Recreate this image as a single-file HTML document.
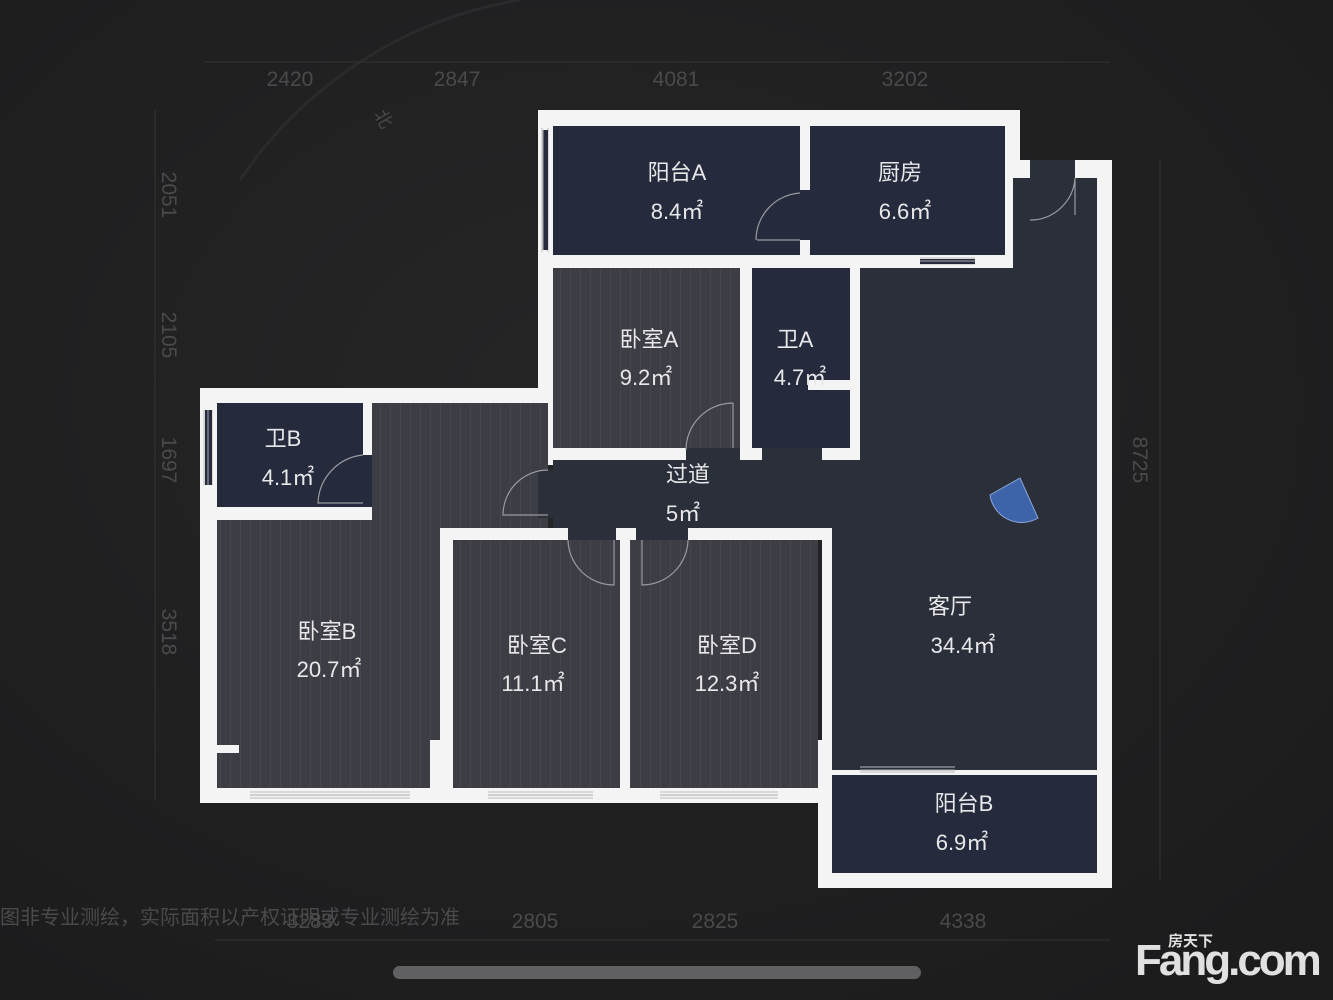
<!DOCTYPE html>
<html><head><meta charset="utf-8"><style>
html,body{margin:0;padding:0;background:#1e1e1f;}
svg{display:block}
text{font-family:"Liberation Sans","Noto Sans CJK SC",sans-serif;}
</style></head><body>
<svg width="1333" height="1000" viewBox="0 0 1333 1000" xmlns="http://www.w3.org/2000/svg">
<defs>
<radialGradient id="bg" cx="0.45" cy="0.4" r="0.8"><stop offset="0" stop-color="#262627"/><stop offset="1" stop-color="#1b1b1c"/></radialGradient>
<pattern id="wood" width="10" height="10" patternUnits="userSpaceOnUse"><rect width="10" height="10" fill="#3d3d45"/><line x1="0.5" y1="0" x2="0.5" y2="10" stroke="#45454d" stroke-width="1"/></pattern>
</defs>
<rect width="1333" height="1000" fill="url(#bg)"/>
<path d="M240 180 A420 420 0 0 1 520 0" fill="none" stroke="#2a2a2c" stroke-width="3"/>
<g stroke="#333335" stroke-width="1">
<line x1="205" y1="62" x2="1110" y2="62"/><line x1="155" y1="110" x2="155" y2="800"/><line x1="1160" y1="160" x2="1160" y2="880"/><line x1="215" y1="940" x2="1110" y2="940"/>
</g>
<g fill="#4a4a4c" font-size="21" text-anchor="middle">
<text x="290" y="86">2420</text><text x="457" y="86">2847</text><text x="676" y="86">4081</text><text x="905" y="86">3202</text>
<text x="310" y="928">3283</text><text x="535" y="928">2805</text><text x="715" y="928">2825</text><text x="963" y="928">4338</text>
<text transform="translate(162,195) rotate(90)">2051</text>
<text transform="translate(162,335) rotate(90)">2105</text>
<text transform="translate(162,460) rotate(90)">1697</text>
<text transform="translate(162,632) rotate(90)">3518</text>
<text transform="translate(1133,460) rotate(90)">8725</text>
<text transform="translate(378,122) rotate(60)" font-size="18">北</text>
</g>
<g fill="#f4f4f4">
<rect x="538" y="110" width="482" height="16"/>
<rect x="1005" y="110" width="15" height="63"/>
<rect x="1005" y="110" width="8" height="158"/>
<rect x="1013" y="160" width="99" height="18"/>
<rect x="1097" y="160" width="15" height="728"/>
<rect x="818" y="740" width="14" height="148"/>
<rect x="818" y="873" width="294" height="15"/>
<rect x="538" y="110" width="15" height="355"/>
<rect x="200" y="388" width="350" height="15"/>
<rect x="200" y="388" width="17" height="415"/>
<rect x="200" y="788" width="250" height="15"/>
<rect x="440" y="528" width="13" height="275"/>
<rect x="440" y="528" width="392" height="12"/>
<rect x="620" y="528" width="10" height="275"/>
<rect x="440" y="788" width="392" height="15"/>
<rect x="778" y="740" width="54" height="63"/>
<rect x="538" y="255" width="475" height="13"/>
<rect x="800" y="110" width="10" height="158"/>
<rect x="740" y="262" width="12" height="196"/>
<rect x="850" y="262" width="10" height="196"/>
<rect x="538" y="448" width="322" height="12"/>
<rect x="363" y="403" width="9" height="117"/>
<rect x="200" y="507" width="172" height="13"/>
<rect x="832" y="765" width="280" height="10"/>
</g>
<g fill="#252a3c">
<rect x="553" y="126" width="247" height="129"/>
<rect x="810" y="126" width="195" height="129"/>
<rect x="752" y="268" width="98" height="180"/>
<rect x="217" y="403" width="146" height="104"/>
<rect x="832" y="775" width="265" height="98"/>
</g>
<rect x="1013" y="178" width="84" height="590" fill="#2b2f3a"/>
<rect x="860" y="268" width="237" height="500" fill="#2b2f3a"/>
<rect x="553" y="460" width="307" height="68" fill="#2b2f3a"/>
<rect x="832" y="460" width="265" height="310" fill="#2b2f3a"/>
<g fill="url(#wood)">
<rect x="553" y="268" width="187" height="180"/>
<rect x="217" y="520" width="223" height="268"/>
<rect x="372" y="403" width="176" height="125"/>
<rect x="453" y="540" width="167" height="248"/>
<rect x="630" y="540" width="188" height="248"/>
</g>
<g fill="#f4f4f4">
<rect x="217" y="745" width="22" height="8"/>
<rect x="430" y="740" width="10" height="63"/>
<rect x="818" y="740" width="14" height="35"/>
<rect x="818" y="528" width="14" height="12"/>
<rect x="822" y="540" width="10" height="200"/>
<rect x="808" y="380" width="42" height="10"/>
</g>
<g stroke="#bbbbbe" stroke-width="1" fill="none">
<path d="M250 792 H410 M250 798 H410"/>
<path d="M488 792 H593 M488 798 H593"/>
<path d="M660 792 H778 M660 798 H778"/>
<path d="M860 767 H955 M860 772 H955"/>
<path d="M542 128 V252 M548 128 V252"/>
<path d="M204 410 V485 M212 410 V485"/>
<path d="M920 258 H975 M920 264 H975"/>
</g>
<g fill="#252a3c"><rect x="543" y="130" width="5" height="120"/><rect x="205" y="410" width="7" height="75"/><rect x="920" y="259" width="55" height="5"/></g>
<g stroke="#aaaaae" stroke-width="1" fill="none">
<path d="M543 130 V250"/><path d="M208 410 V485"/><path d="M920 261 H975"/>
<path d="M250 795 H410 M488 795 H593 M660 795 H778 M860 770 H955"/>
</g>
<g fill="#2b2f3a">
<rect x="1030" y="160" width="45" height="18"/>
<rect x="686" y="448" width="54" height="12"/>
<rect x="762" y="448" width="60" height="12"/>
<rect x="568" y="528" width="48" height="12"/>
<rect x="636" y="528" width="52" height="12"/>
<rect x="538" y="470" width="15" height="48"/>
<rect x="363" y="455" width="9" height="52" fill="#252a3c"/>
<rect x="800" y="190" width="10" height="50" fill="#252a3c"/>
</g>
<g fill="none" stroke="#9a9aa0" stroke-width="1.2">
<path d="M1075 178 L1075 215 M1075 178 A45 45 0 0 1 1030 220"/>
<path d="M757 240 L800 240 M800 193 A47 47 0 0 0 756 240"/>
<path d="M733 403 L733 448 M733 403 A47 47 0 0 0 686 450"/>
<path d="M548 470 A45 45 0 0 0 503 515 L548 515"/>
<path d="M363 455 A50 50 0 0 0 318 503 L363 503"/>
<path d="M568 540 A46 46 0 0 0 614 585 L614 540"/>
<path d="M688 540 A46 46 0 0 1 642 585 L642 540"/>
</g>
<path d="M1020 478 L990 495 A32 32 0 0 0 1038 518 Z" fill="#3d64a8" stroke="#8aa5d8" stroke-width="1"/>
<g fill="#e8e8ea" font-size="22" text-anchor="middle">
<text x="677" y="180">阳台A</text><text x="677" y="219">8.4㎡</text>
<text x="900" y="180">厨房</text><text x="905" y="219">6.6㎡</text>
<text x="649" y="347">卧室A</text><text x="646" y="385">9.2㎡</text>
<text x="795" y="347">卫A</text><text x="800" y="385">4.7㎡</text>
<text x="283" y="446">卫B</text><text x="288" y="485">4.1㎡</text>
<text x="688" y="482">过道</text><text x="683" y="521">5㎡</text>
<text x="327" y="639">卧室B</text><text x="329" y="677">20.7㎡</text>
<text x="537" y="653">卧室C</text><text x="533" y="691">11.1㎡</text>
<text x="727" y="653">卧室D</text><text x="727" y="691">12.3㎡</text>
<text x="950" y="614">客厅</text><text x="963" y="653">34.4㎡</text>
<text x="964" y="811">阳台B</text><text x="962" y="850">6.9㎡</text>
</g>
<text x="0" y="924" fill="#4a4a4c" font-size="20">图非专业测绘，实际面积以产权证明或专业测绘为准</text>
<rect x="393" y="966" width="528" height="13" rx="6.5" fill="#606062"/>
<g fill="#e0e0e0">
<text x="1135" y="975" font-size="44" font-weight="bold" letter-spacing="-3">Fang.com</text>
<text x="1168" y="946" font-size="15" font-weight="bold">房天下</text>
</g>
</svg>
</body></html>
